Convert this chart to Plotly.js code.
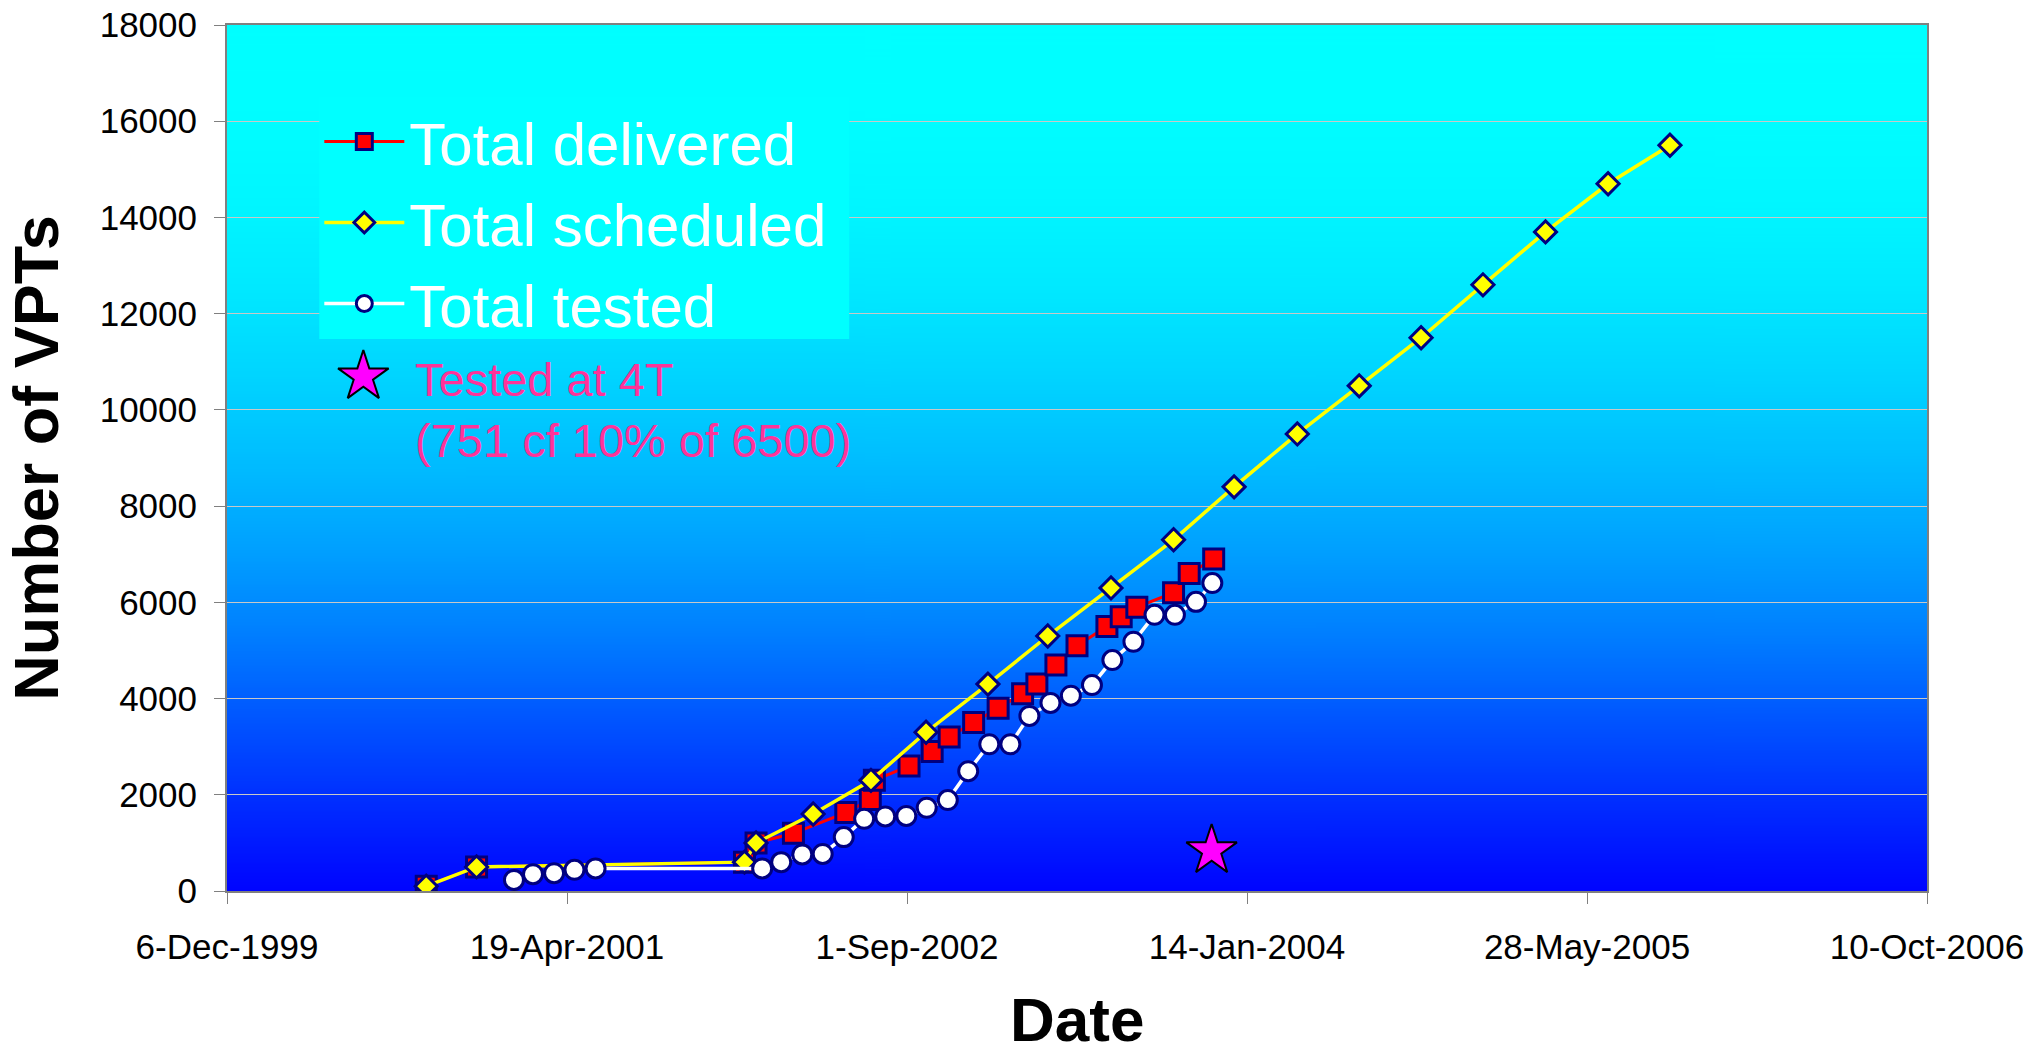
<!DOCTYPE html>
<html>
<head>
<meta charset="utf-8">
<script src="https://cdn.plot.ly/plotly-3.0.1.min.js"></script>
<style>
html, body { margin: 0; padding: 0; background: #ffffff; }
#chart { width: 2028px; height: 1053px; }
</style>
</head>
<body>
<div id="chart"></div>
<script>
// ---------- data ----------
const tickDates  = ['1999-12-06', '2001-04-19', '2002-09-01', '2004-01-14', '2005-05-28', '2006-10-10'];
const tickLabels = ['6-Dec-1999', '19-Apr-2001', '1-Sep-2002', '14-Jan-2004', '28-May-2005', '10-Oct-2006'];

const deliveredDates = ['2000-09-24', '2000-12-07', '2002-01-05', '2002-01-22', '2002-03-18', '2002-06-03',
  '2002-07-09', '2002-07-15', '2002-09-04', '2002-10-08', '2002-11-02', '2002-12-08', '2003-01-13',
  '2003-02-18', '2003-03-11', '2003-04-08', '2003-05-09', '2003-06-22', '2003-07-13', '2003-08-05',
  '2003-09-28', '2003-10-21', '2003-11-26'];
const deliveredValues = [100, 500, 600, 1000, 1200, 1630, 1900, 2300, 2600, 2900, 3200, 3500, 3800,
  4100, 4300, 4700, 5100, 5500, 5700, 5900, 6200, 6600, 6900];

const scheduledDates = ['2000-09-24', '2000-12-07', '2002-01-05', '2002-01-22', '2002-04-16', '2002-07-10',
  '2002-09-29', '2002-12-29', '2003-03-27', '2003-06-28', '2003-09-28', '2003-12-26', '2004-03-28',
  '2004-06-27', '2004-09-26', '2004-12-26', '2005-03-28', '2005-06-28', '2005-09-27'];
const scheduledValues = [100, 500, 600, 1000, 1600, 2300, 3300, 4300, 5300, 6300, 7300, 8400, 9500,
  10500, 11500, 12600, 13700, 14700, 15500];

const testedDates = ['2001-01-31', '2001-02-28', '2001-03-31', '2001-04-30', '2001-05-31', '2002-01-31',
  '2002-02-28', '2002-03-31', '2002-04-30', '2002-05-31', '2002-06-30', '2002-07-31', '2002-08-31',
  '2002-09-30', '2002-10-31', '2002-11-30', '2002-12-31', '2003-01-31', '2003-02-28', '2003-03-31',
  '2003-04-30', '2003-05-31', '2003-06-30', '2003-07-31', '2003-08-31', '2003-09-30', '2003-10-31',
  '2003-11-24'];
const testedValues = [230, 350, 370, 440, 470, 470, 600, 760, 770, 1120, 1500, 1550, 1560, 1730, 1890,
  2490, 3050, 3050, 3640, 3910, 4060, 4280, 4800, 5180, 5740, 5740, 6010, 6400];

const at4TDates  = ['2003-11-23'];
const at4TValues = [840];

const seriesNames = ['Total delivered', 'Total scheduled', 'Total tested'];
const noteText = 'Tested at 4T<br>(751 cf 10% of 6500)';
const xTitle = 'Date';
const yTitle = 'Number of VPTs';

// ---------- styling ----------
const FONT = 'Liberation Sans, Arial, Helvetica, sans-serif';
const NAVY = '#000080';

function gradientImage() {
  const c = document.createElement('canvas');
  c.width = 4; c.height = 600;
  const ctx = c.getContext('2d');
  const g = ctx.createLinearGradient(0, 0, 0, 600);
  const greens = [[0.0, 255], [0.1, 254], [0.2, 247], [0.3, 234], [0.4, 214], [0.5, 190],
                  [0.6, 162], [0.7, 128], [0.8, 86], [0.9, 44], [1.0, 4]];
  greens.forEach(function (s) { g.addColorStop(s[0], 'rgb(0,' + s[1] + ',255)'); });
  ctx.fillStyle = g;
  ctx.fillRect(0, 0, 4, 600);
  return c.toDataURL('image/png');
}

const traces = [
  {
    type: 'scatter', mode: 'lines+markers', name: seriesNames[0],
    x: deliveredDates, y: deliveredValues,
    line: { color: '#FF0000', width: 3 },
    marker: { symbol: 'square', size: 20, color: '#FF0000', line: { color: NAVY, width: 3 } }
  },
  {
    type: 'scatter', mode: 'lines+markers', name: seriesNames[1],
    x: scheduledDates, y: scheduledValues,
    line: { color: '#FFFF00', width: 3.5 },
    marker: { symbol: 'diamond', size: 17, color: '#FFFF00', line: { color: NAVY, width: 3 } }
  },
  {
    type: 'scatter', mode: 'lines+markers', name: seriesNames[2],
    x: testedDates, y: testedValues,
    line: { color: '#FFFFFF', width: 3.5 },
    marker: { symbol: 'circle', size: 19, color: '#FFFFFF', line: { color: NAVY, width: 3 } }
  },
  {
    type: 'scatter', mode: 'markers', name: 'Tested at 4T', showlegend: false,
    x: at4TDates, y: at4TValues,
    marker: { symbol: 'star', size: 38, color: '#FF00FF', line: { color: '#000000', width: 2 } }
  },
  // key symbol for the note (drawn on a hidden overlay axis in plot-fraction units)
  {
    type: 'scatter', mode: 'markers', showlegend: false, hoverinfo: 'skip',
    x: [0.0802], y: [0.594], xaxis: 'x2', yaxis: 'y2',
    marker: { symbol: 'star', size: 38, color: '#FF00FF', line: { color: '#000000', width: 2 } }
  }
];

const layout = {
  width: 2028, height: 1053,
  margin: { l: 227, r: 101, t: 25, b: 162 },
  paper_bgcolor: '#FFFFFF',
  plot_bgcolor: '#0080FF',
  font: { family: FONT, color: '#000000', size: 35 },
  showlegend: true,
  legend: {
    x: 0.0543, y: 0.918, xanchor: 'left', yanchor: 'top',
    bgcolor: 'rgba(0,0,0,0)', borderwidth: 0,
    font: { family: FONT, size: 60, color: '#FFFFFF' },
    itemwidth: 80, tracegroupgap: 0
  },
  xaxis: {
    type: 'date',
    range: [tickDates[0], tickDates[tickDates.length - 1]],
    tickmode: 'array', tickvals: tickDates, ticktext: tickLabels,
    ticks: 'outside', ticklen: 11, tickcolor: '#808080', tickwidth: 1,
    showgrid: false, zeroline: false,
    showline: true, linecolor: '#808080', linewidth: 2, mirror: true,
    tickfont: { family: FONT, size: 35, color: '#000000' },
    ticklabelstandoff: 13,
    automargin: false
  },
  yaxis: {
    range: [0, 18000], dtick: 2000, tick0: 0, tickformat: 'd',
    ticks: 'outside', ticklen: 11, tickcolor: '#808080', tickwidth: 1,
    showgrid: true, gridcolor: '#C8C8C8', gridwidth: 1,
    zeroline: false,
    showline: true, linecolor: '#808080', linewidth: 2, mirror: true,
    tickfont: { family: FONT, size: 35, color: '#000000' },
    ticklabelstandoff: 10,
    title: { text: yTitle, font: { family: FONT, size: 63, color: '#000000', weight: 'bold' }, standoff: 21 },
    automargin: false
  },
  xaxis2: { overlaying: 'x', range: [0, 1], visible: false, fixedrange: true },
  yaxis2: { overlaying: 'y', range: [0, 1], visible: false, fixedrange: true },
  images: [{
    source: gradientImage(), xref: 'paper', yref: 'paper',
    x: 0, y: 1, sizex: 1, sizey: 1, xanchor: 'left', yanchor: 'top',
    sizing: 'stretch', layer: 'below'
  }],
  shapes: [{
    // cyan legend panel
    type: 'rect', xref: 'paper', yref: 'paper', layer: 'above',
    x0: 0.0543, x1: 0.366, y0: 0.6374, y1: 0.9169,
    fillcolor: '#00FFFF', line: { width: 0 }
  }],
  annotations: [
    {
      xref: 'paper', yref: 'paper', x: 0.1096, y: 0.5549, xanchor: 'left', yanchor: 'middle',
      align: 'left', showarrow: false, text: noteText,
      font: { family: FONT, size: 47, color: '#FF3399' }
    },
    {
      // x-axis title
      xref: 'paper', yref: 'paper', x: 0.5, y: -0.148, xanchor: 'center', yanchor: 'middle',
      showarrow: false, text: '<b>' + xTitle + '</b>',
      font: { family: FONT, size: 62, color: '#000000' }
    }
  ]
};

Plotly.newPlot('chart', traces, layout, { displayModeBar: false, staticPlot: true });
</script>
</body>
</html>
